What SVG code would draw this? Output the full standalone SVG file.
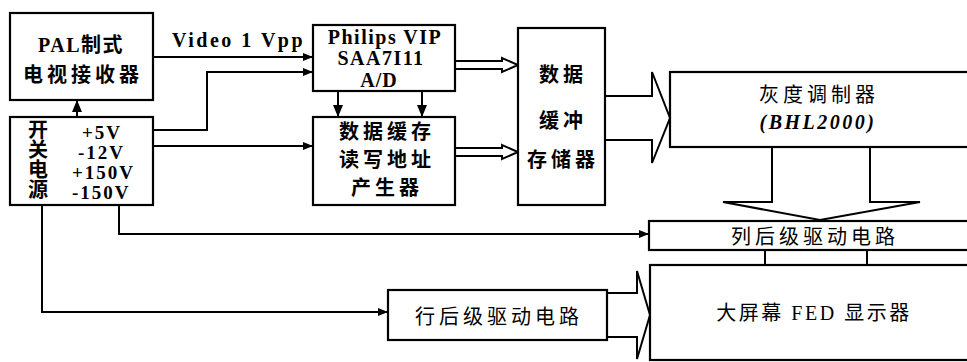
<svg xmlns="http://www.w3.org/2000/svg" width="967" height="362" viewBox="0 0 967 362">
<defs>
<style>
.box{fill:#fff;stroke:#000;stroke-width:2.2}
.ln{fill:none;stroke:#000;stroke-width:2}
.hol{fill:none;stroke:#000;stroke-width:2;stroke-linejoin:miter}
.t{font-family:"Liberation Serif","Noto Sans CJK SC",serif;font-size:20px;fill:#000}
.v{font-size:19px}
.b{font-weight:bold}
.m{text-anchor:middle}
</style>
<marker id="ah" viewBox="0 0 10 8" refX="10" refY="4" markerWidth="10" markerHeight="8" markerUnits="userSpaceOnUse" orient="auto">
<path d="M0,0 L10,4 L0,8 z" fill="#000"/>
</marker>
<marker id="ahb" viewBox="0 0 12 10" refX="12" refY="5" markerWidth="12" markerHeight="10" markerUnits="userSpaceOnUse" orient="auto">
<path d="M0,0 L12,5 L0,10 z" fill="#000"/>
</marker>
</defs>
<rect width="967" height="362" fill="#fff"/>

<g id="connectors">
<path class="ln" d="M153,57 H313" marker-end="url(#ah)"/>
<path class="ln" d="M153,130 H207 V72 H313" marker-end="url(#ah)"/>
<path class="ln" d="M153,146 H313" marker-end="url(#ah)"/>
<path class="ln" d="M77,117 V100" stroke-width="3" marker-end="url(#ahb)"/>
<path class="ln" d="M119,205 V234 H649" marker-end="url(#ah)"/>
<path class="ln" d="M42,205 V312 H388" marker-end="url(#ah)"/>
<path class="ln" d="M338,91 V117" stroke-width="3.5" marker-end="url(#ahb)"/>
<path class="ln" d="M422,91 V117" stroke-width="3.5" marker-end="url(#ahb)"/>
<polyline class="hol" points="455,61 502,61 502,58 518,65 502,72 502,69 455,69"/>
<polyline class="hol" points="455,148 502,148 502,145 518,152 502,159 502,156 455,156"/>
<polyline class="hol" points="605,96 652,96 652,72 670,118 652,163 652,140 605,140"/>
<polyline class="hol" points="772,147 772,202 723,202 820,220 920,202 870,202 870,147"/>
<polyline class="hol" points="607,293 637,293 637,271 650,315 637,359 637,337 607,337"/>
<path class="ln" d="M765,250 V265 M867,250 V265"/>
</g>

<g id="pal">
<rect class="box" x="10" y="13" width="143" height="87"/>
<text class="t b m" x="81" y="52" letter-spacing="1.5">PAL制式</text>
<text class="t b m" x="83" y="82" letter-spacing="4">电视接收器</text>
</g>

<g id="power">
<rect class="box" x="10" y="117" width="143" height="88"/>
<text class="t b m" x="38" y="137">开</text>
<text class="t b m" x="38" y="157">关</text>
<text class="t b m" x="38" y="177">电</text>
<text class="t b m" x="38" y="197">源</text>
<text class="t b v" x="82" y="139" letter-spacing="2">+5V</text>
<text class="t b v" x="78" y="159" letter-spacing="2">-12V</text>
<text class="t b v" x="72" y="179" letter-spacing="2">+150V</text>
<text class="t b v" x="72" y="199" letter-spacing="2">-150V</text>
</g>

<text class="t b" x="172" y="47" letter-spacing="2.5">Video 1 Vpp</text>

<g id="philips">
<rect class="box" x="313" y="25" width="142" height="66"/>
<text class="t b m" x="385" y="44" letter-spacing="1.5">Philips VIP</text>
<text class="t b m" x="381" y="65" letter-spacing="1.5">SAA7I11</text>
<text class="t b m" x="379" y="87" letter-spacing="1">A/D</text>
</g>

<g id="addrgen">
<rect class="box" x="313" y="117" width="142" height="88"/>
<text class="t b m" x="387" y="139" letter-spacing="4">数据缓存</text>
<text class="t b m" x="387" y="167" letter-spacing="4">读写地址</text>
<text class="t b m" x="387" y="195" letter-spacing="4">产生器</text>
</g>

<g id="buffer">
<rect class="box" x="518" y="28" width="87" height="177"/>
<text class="t b m" x="563" y="82" letter-spacing="4">数据</text>
<text class="t b m" x="563" y="128" letter-spacing="4">缓冲</text>
<text class="t b m" x="563" y="167" letter-spacing="4">存储器</text>
</g>

<g id="modulator">
<rect class="box" x="670" y="72" width="320" height="75"/>
<text class="t m" x="819" y="102" letter-spacing="4">灰度调制器</text>
<text class="t b m" x="818" y="129" font-style="italic" letter-spacing="2.5">(BHL2000)</text>
</g>

<g id="coldrive">
<rect class="box" x="649" y="221" width="340" height="29"/>
<text class="t m" x="815" y="244" letter-spacing="4">列后级驱动电路</text>
</g>

<g id="display">
<rect class="box" x="650" y="265" width="340" height="95"/>
<text class="t m" x="814" y="320" letter-spacing="2.5">大屏幕 FED 显示器</text>
</g>

<g id="rowdrive">
<rect class="box" x="388" y="290" width="219" height="50"/>
<text class="t m" x="499" y="324" letter-spacing="4">行后级驱动电路</text>
</g>
</svg>
